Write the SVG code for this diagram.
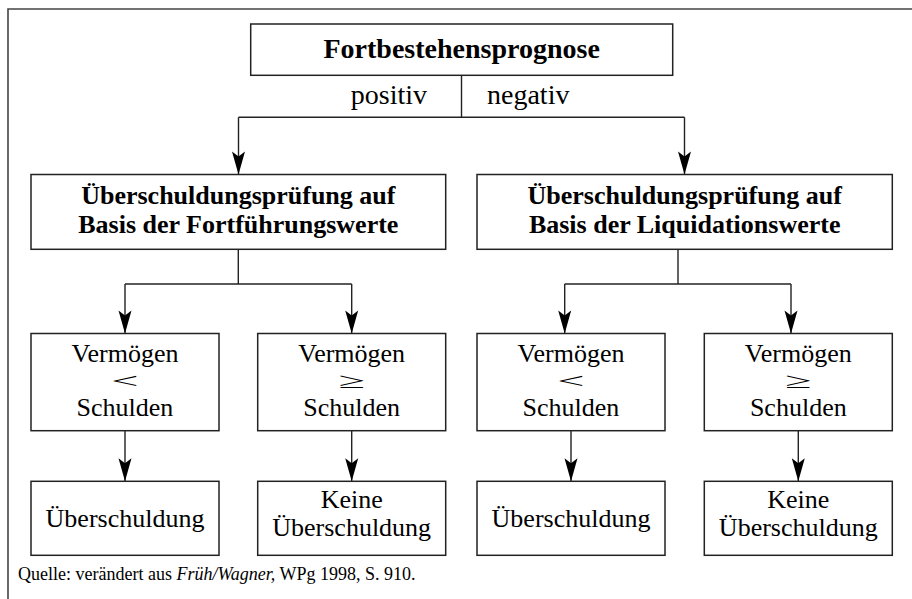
<svg xmlns="http://www.w3.org/2000/svg" width="912" height="599" viewBox="0 0 912 599">
<defs>
<style>
.box{fill:#fff;stroke:#222;stroke-width:1.5}
.ln{fill:none;stroke:#222;stroke-width:1.4}
.b{font-family:"Liberation Serif","Times New Roman",serif;font-weight:bold;font-size:26px;fill:#000;text-anchor:middle}
.r{font-family:"Liberation Serif","Times New Roman",serif;font-size:26px;fill:#000;text-anchor:middle}
.sym{font-family:"Liberation Serif","Times New Roman",serif;font-size:22px;fill:#000;text-anchor:middle}
.cap{font-family:"Liberation Serif","Times New Roman",serif;font-size:18px;fill:#000}
</style>
<marker id="ah" markerWidth="26" markerHeight="16" viewBox="-24 -8 26 16" refX="0" refY="0" orient="auto" markerUnits="userSpaceOnUse">
<path d="M0,0 L-23,-6.5 L-18,0 L-23,6.5 Z" fill="#000"/>
</marker>
</defs>
<rect width="912" height="599" fill="#fff"/>
<path d="M8,599 V9 H912" fill="none" stroke="#444" stroke-width="1.6"/>

<g id="connectors">
<path class="ln" d="M461.5,75.3 V117.3"/>
<path class="ln" d="M238.5,117.3 H684.5"/>
<path class="ln" d="M238.5,117.3 V174.5" marker-end="url(#ah)"/>
<path class="ln" d="M684.5,117.3 V174.5" marker-end="url(#ah)"/>
<path class="ln" d="M238.3,249.3 V284"/>
<path class="ln" d="M125,284 H351.7"/>
<path class="ln" d="M125,284 V333.5" marker-end="url(#ah)"/>
<path class="ln" d="M351.7,284 V333.5" marker-end="url(#ah)"/>
<path class="ln" d="M678,249.3 V284"/>
<path class="ln" d="M564.7,284 H791"/>
<path class="ln" d="M564.7,284 V333.5" marker-end="url(#ah)"/>
<path class="ln" d="M791,284 V333.5" marker-end="url(#ah)"/>
<path class="ln" d="M125,430.7 V481.3" marker-end="url(#ah)"/>
<path class="ln" d="M351.7,430.7 V481.3" marker-end="url(#ah)"/>
<path class="ln" d="M571,430.7 V481.3" marker-end="url(#ah)"/>
<path class="ln" d="M798.3,430.7 V481.3" marker-end="url(#ah)"/>
</g>

<g id="prognose">
<rect class="box" x="250.7" y="24" width="422" height="51.3"/>
<text class="b" x="461.7" y="58" style="font-size:28px">Fortbestehensprognose</text>
</g>
<g id="label-positiv"><text class="r" x="427" y="104" style="text-anchor:end;font-size:28px">positiv</text></g>
<g id="label-negativ"><text class="r" x="487" y="104" style="text-anchor:start;font-size:28px">negativ</text></g>

<g id="pruefung-fortfuehrung">
<rect class="box" x="31" y="174.5" width="414.7" height="74.8"/>
<text class="b" x="238.3" y="204">Überschuldungsprüfung auf</text>
<text class="b" x="238.3" y="233">Basis der Fortführungswerte</text>
</g>
<g id="pruefung-liquidation">
<rect class="box" x="477" y="174.5" width="415.3" height="74.8"/>
<text class="b" x="684.7" y="204">Überschuldungsprüfung auf</text>
<text class="b" x="684.7" y="233">Basis der Liquidationswerte</text>
</g>

<g id="f-kleiner">
<rect class="box" x="31" y="333.5" width="188" height="97.2"/>
<text class="r" x="125" y="362">Vermögen</text>
<text class="sym" transform="translate(125,387.6) scale(2.2,1)">&lt;</text>
<text class="r" x="125" y="416">Schulden</text>
</g>
<g id="f-groesser">
<rect class="box" x="257.7" y="333.5" width="188" height="97.2"/>
<text class="r" x="351.7" y="362">Vermögen</text>
<text class="sym" transform="translate(351.7,387.6) scale(2.2,1)">≥</text>
<text class="r" x="351.7" y="416">Schulden</text>
</g>
<g id="l-kleiner">
<rect class="box" x="477" y="333.5" width="188" height="97.2"/>
<text class="r" x="571" y="362">Vermögen</text>
<text class="sym" transform="translate(571,387.6) scale(2.2,1)">&lt;</text>
<text class="r" x="571" y="416">Schulden</text>
</g>
<g id="l-groesser">
<rect class="box" x="704.3" y="333.5" width="188" height="97.2"/>
<text class="r" x="798.3" y="362">Vermögen</text>
<text class="sym" transform="translate(798.3,387.6) scale(2.2,1)">≥</text>
<text class="r" x="798.3" y="416">Schulden</text>
</g>

<g id="f-ueberschuldung">
<rect class="box" x="31" y="481.3" width="188" height="74"/>
<text class="r" x="125" y="527">Überschuldung</text>
</g>
<g id="f-keine">
<rect class="box" x="257.7" y="481.3" width="188" height="74"/>
<text class="r" x="351.7" y="508">Keine</text>
<text class="r" x="351.7" y="536">Überschuldung</text>
</g>
<g id="l-ueberschuldung">
<rect class="box" x="477" y="481.3" width="188" height="74"/>
<text class="r" x="571" y="527">Überschuldung</text>
</g>
<g id="l-keine">
<rect class="box" x="704.3" y="481.3" width="188" height="74"/>
<text class="r" x="798.3" y="508">Keine</text>
<text class="r" x="798.3" y="536">Überschuldung</text>
</g>

<g id="caption">
<text class="cap" x="18" y="580">Quelle: verändert aus <tspan font-style="italic">Früh/Wagner,</tspan> WPg 1998, S. 910.</text>
</g>
</svg>
